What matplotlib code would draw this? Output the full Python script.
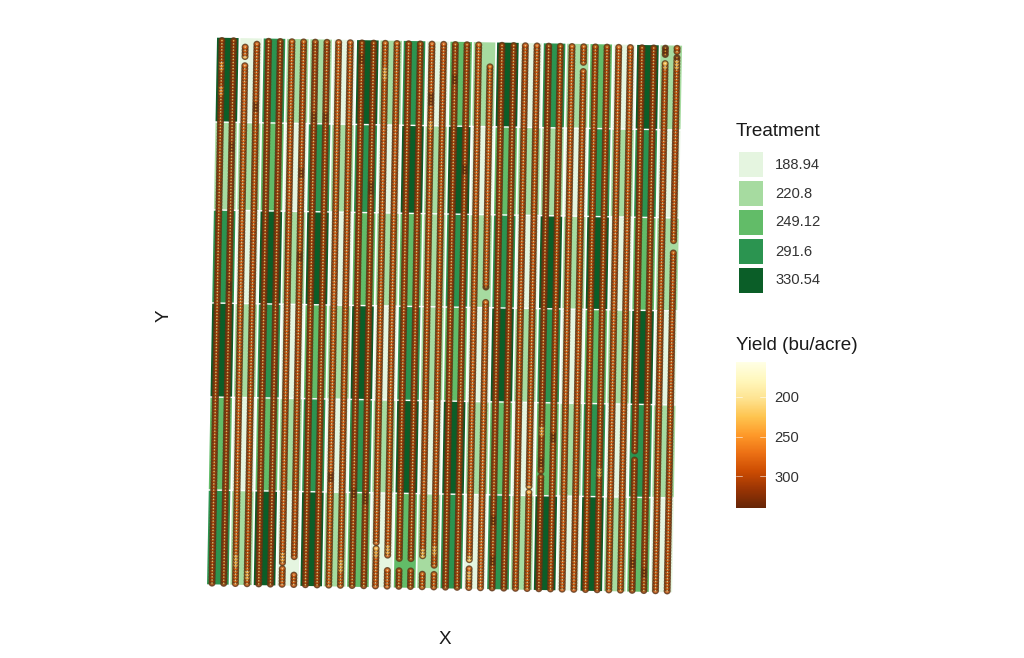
import numpy as np
import matplotlib
matplotlib.use("Agg")
import matplotlib.pyplot as plt
from matplotlib.cm import ScalarMappable
from matplotlib.colors import Normalize
from matplotlib.patches import Polygon
from matplotlib.transforms import Affine2D

plt.rcParams['font.family'] = ['Liberation Sans', 'DejaVu Sans']

# Treatment legend
treatment_labels = ['188.94', '220.8', '249.12', '291.6', '330.54']
treatment_colors = ['#E5F5E0', '#A6DBA0', '#62BC68', '#2B9450', '#0B5E28']

# Treatment level of each plot, top range first (20 plots, 6 ranges)
treatment_top = [
    [4, 0, 3, 1, 1, 0, 4, 1, 3, 0, 2, 1, 4, 0, 3, 1, 2, 0, 4, 1],
    [1, 1, 2, 0, 3, 1, 3, 0, 4, 1, 4, 0, 2, 1, 1, 0, 3, 1, 3, 0],
    [3, 0, 4, 1, 4, 0, 2, 1, 2, 1, 3, 1, 3, 0, 4, 1, 4, 0, 2, 1],
    [4, 1, 3, 0, 2, 1, 4, 0, 3, 1, 2, 0, 4, 1, 3, 0, 2, 1, 4, 0],
    [2, 0, 2, 1, 3, 0, 3, 1, 4, 0, 4, 1, 2, 0, 2, 1, 3, 0, 3, 1],
    [3, 1, 4, 0, 4, 1, 2, 0, 2, 1, 3, 0, 3, 1, 4, 0, 4, 1, 2, 0],
]
range_edges = [0, 95, 188, 282, 375, 463, 548]  # along the field, bottom first

# Mean yield of the 40 harvest rows, left to right
row_yield = [310, 315, 285, 295, 312, 312, 290, 295, 308, 305,
             285, 288, 308, 308, 288, 288, 305, 305, 292, 292,
             308, 305, 285, 282, 308, 308, 295, 292, 312, 298,
             288, 292, 298, 302, 288, 288, 308, 308, 295, 295]

# Rows that stop short of the field's top end
short_rows = {23: 523, 2: 541, 3: 542}

# Gaps in the rows: row, start, end
row_gaps = [(2, 522, 528), (38, 531, 537), (39, 537, 541), (31, 522, 528),
            (39, 341, 352), (23, 288, 300), (6, 18, 21), (7, 13, 27),
            (14, 42, 45), (15, 18, 32), (16, 18, 28), (17, 20, 27),
            (18, 17, 30), (19, 15, 23), (22, 23, 28), (27, 100, 103),
            (28, 116, 119), (36, 133, 139), (34, 312, 314)]

# Spots that differ from the row mean: row, position, yield
yield_spots = [(0, 520, 250), (0, 495, 255), (1, 440, 335), (2, 525, 235),
               (3, 480, 335), (8, 470, 335), (9, 470, 335), (7, 330, 335),
               (7, 415, 335), (12, 530, 335), (13, 400, 335), (14, 515, 235),
               (18, 490, 340), (18, 465, 240), (20, 510, 340), (21, 420, 340),
               (39, 535, 340), (38, 540, 340), (38, 528, 230), (39, 530, 230),
               (2, 25, 235), (3, 12, 235), (6, 30, 240), (11, 22, 235),
               (14, 35, 235), (15, 40, 235), (18, 35, 230), (19, 40, 235),
               (22, 30, 225), (22, 15, 230), (24, 70, 340), (24, 30, 340),
               (28, 130, 340), (36, 30, 340), (37, 20, 340), (23, 300, 340),
               (29, 155, 340), (10, 110, 335), (12, 95, 340), (13, 90, 340),
               (33, 120, 235), (27, 100, 240), (28, 160, 240), (1, 300, 340)]

yield_ticks = [200, 250, 300]
yield_min, yield_max = 156, 340

row_width = 11.67
plot_width = 21.6
first_row = 4.0
point_step = 3.1

fig = plt.figure(figsize=(10.24, 6.58), dpi=100)
W, H = 1024.0, 658.0


def px_axes(left, top, right, bottom):
    return fig.add_axes([left / W, 1 - bottom / H, (right - left) / W, (bottom - top) / H])


ax = px_axes(195, 25, 695, 605)
ax.set_xlim(-13, 487)
ax.set_ylim(-20, 560)
ax.axis('off')

# The field sits slightly rotated in its coordinates
tilt = Affine2D.from_values(1, -8 / 465, 10 / 547, 1, 0, 0) + ax.transData

# Treatment plots
for r, levels in enumerate(treatment_top):
    low, high = range_edges[5 - r], range_edges[6 - r]
    for c, level in enumerate(levels):
        mid = first_row + row_width * (2 * c + 0.5)
        corners = [(mid - plot_width / 2, low + 0.7), (mid + plot_width / 2, low + 0.7),
                   (mid + plot_width / 2, high - 0.7), (mid - plot_width / 2, high - 0.7)]
        ax.add_patch(Polygon(corners, closed=True, facecolor=treatment_colors[level],
                             edgecolor='none', transform=tilt, zorder=1))

# Yield points
norm = Normalize(yield_min, yield_max)
cmap = plt.get_cmap('YlOrBr')
xs, ys, vals = [], [], []
for i, value in enumerate(row_yield):
    top = short_rows.get(i, 545)
    pos = np.arange(2, top, point_step)
    keep = np.ones(len(pos), dtype=bool)
    for row, start, end in row_gaps:
        if row == i:
            keep &= (pos < start) | (pos > end)
    pos = pos[keep]
    v = np.full(len(pos), float(value))
    for row, spot, spot_value in yield_spots:
        if row == i:
            v[np.abs(pos - spot) < 5] = spot_value
    xs.append(np.full(len(pos), first_row + row_width * i))
    ys.append(pos)
    vals.append(v)
xs = np.concatenate(xs)
ys = np.concatenate(ys)
vals = np.concatenate(vals)
ax.scatter(xs, ys, c=vals, cmap=cmap, norm=norm, s=17, linewidths=1.0,
           edgecolors='#5c3515', alpha=0.8, transform=tilt, zorder=2)
ax.scatter(xs, ys, c=vals - 105, cmap=cmap, norm=norm, s=1.4, linewidths=0,
           alpha=0.75, transform=tilt, zorder=3)

fig.text(445 / W, 1 - 639 / H, 'X', fontsize=13.6, color='#1a1a1a', ha='center', va='center')
fig.text(164 / W, 1 - 316 / H, 'Y', fontsize=13.6, color='#1a1a1a', rotation=90,
         ha='center', va='center')

# Treatment legend
lax = px_axes(739, 150, 763, 295)
lax.set_xlim(0, 1)
lax.set_ylim(5, 0)
lax.axis('off')
lax.barh(np.arange(5) + 0.5, 1, height=0.85, color=treatment_colors)
for i, label in enumerate(treatment_labels):
    lax.text(1.5, i + 0.5, label, fontsize=10.6, color='#333333', va='center', ha='left')
fig.text(736 / W, 1 - 132 / H, 'Treatment', fontsize=13.6, color='#1a1a1a',
         ha='left', va='center')

# Yield colour bar
cax = px_axes(736, 362, 766, 508)
cb = fig.colorbar(ScalarMappable(norm=norm, cmap=cmap), cax=cax)
cb.outline.set_visible(False)
cax.invert_yaxis()
cax.set_yticks(yield_ticks)
cax.tick_params(length=0, labelsize=10.6, labelcolor='#333333', pad=6)
for tick in yield_ticks:
    cax.plot([0, 0.2], [tick, tick], color='white', lw=0.4, transform=cax.get_yaxis_transform())
    cax.plot([0.8, 1], [tick, tick], color='white', lw=0.4, transform=cax.get_yaxis_transform())
fig.text(736 / W, 1 - 345 / H, 'Yield (bu/acre)', fontsize=13.6, color='#1a1a1a',
         ha='left', va='center')

fig.savefig('out.png', dpi=100)
